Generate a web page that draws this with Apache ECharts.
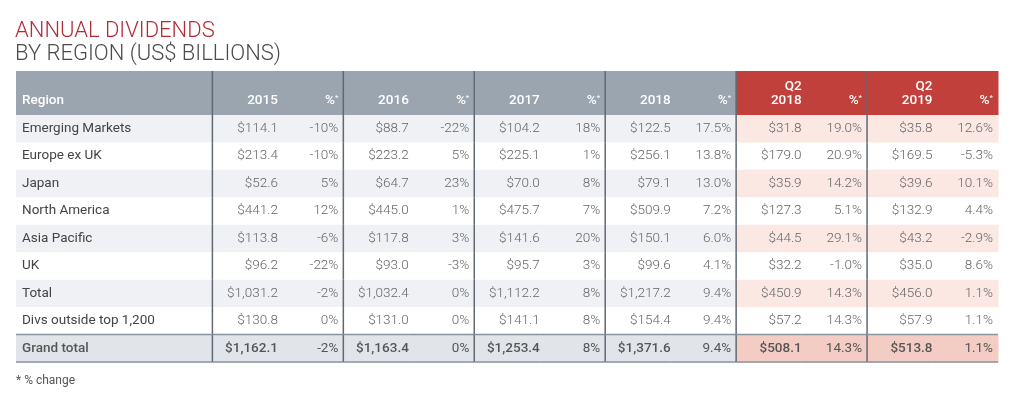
<!DOCTYPE html>
<html>
<head>
<meta charset="utf-8">
<script src="https://cdn.jsdelivr.net/npm/echarts@6/dist/echarts.min.js"></script>
<style>
  html, body { margin: 0; padding: 0; background: #fff; }
  #chart { width: 1024px; height: 407px; }
</style>
</head>
<body>
<div id="chart"></div>
<script>
// table contents
const regions = ['Emerging Markets', 'Europe ex UK', 'Japan', 'North America', 'Asia Pacific', 'UK', 'Total', 'Divs outside top 1,200', 'Grand total'];
const periods = ['2015', '2016', '2017', '2018', 'Q2\n2018', 'Q2\n2019'];

const val2015 = [114.1, 213.4, 52.6, 441.2, 113.8, 96.2, 1031.2, 130.8, 1162.1];
const pct2015 = [-10, -10, 5, 12, -6, -22, -2, 0, -2];
const val2016 = [88.7, 223.2, 64.7, 445.0, 117.8, 93.0, 1032.4, 131.0, 1163.4];
const pct2016 = [-22, 5, 23, 1, 3, -3, 0, 0, 0];
const val2017 = [104.2, 225.1, 70.0, 475.7, 141.6, 95.7, 1112.2, 141.1, 1253.4];
const pct2017 = [18, 1, 8, 7, 20, 3, 8, 8, 8];
const val2018 = [122.5, 256.1, 79.1, 509.9, 150.1, 99.6, 1217.2, 154.4, 1371.6];
const pct2018 = [17.5, 13.8, 13.0, 7.2, 6.0, 4.1, 9.4, 9.4, 9.4];
const valQ2_2018 = [31.8, 179.0, 35.9, 127.3, 44.5, 32.2, 450.9, 57.2, 508.1];
const pctQ2_2018 = [19.0, 20.9, 14.2, 5.1, 29.1, -1.0, 14.3, 14.3, 14.3];
const valQ2_2019 = [35.8, 169.5, 39.6, 132.9, 43.2, 35.0, 456.0, 57.9, 513.8];
const pctQ2_2019 = [12.6, -5.3, 10.1, 4.4, -2.9, 8.6, 1.1, 1.1, 1.1];

const pctDecimals = [0, 0, 0, 1, 1, 1];

const values = [val2015, val2016, val2017, val2018, valQ2_2018, valQ2_2019];
const pcts = [pct2015, pct2016, pct2017, pct2018, pctQ2_2018, pctQ2_2019];

const FONT = 'Roboto, "Liberation Sans", sans-serif';
const HEADER_H = 1.6; // header height in row units
const GRAND = regions.length - 1;

function fmtMoney(n) {
    return '$' + n.toLocaleString('en-US', { minimumFractionDigits: 1, maximumFractionDigits: 1 });
}
function fmtPct(n, dec) {
    return n.toFixed(dec) + '%';
}

// column 0 (region) is 3 units wide, the others 1 unit
function colStart(c) { return c === 0 ? 0 : c + 2; }
function colEnd(c) { return c === 0 ? 3 : c + 3; }
function rowStart(r) { return r < 0 ? 0 : HEADER_H + r; }
function rowEnd(r) { return r < 0 ? HEADER_H : HEADER_H + r + 1; }

// build the cell list: row -1 is the header
const cells = [];
cells.push({ col: 0, row: -1, text: 'Region' });
periods.forEach((p, i) => {
    cells.push({ col: 1 + i * 2, row: -1, text: p, period: i });
    cells.push({ col: 2 + i * 2, row: -1, text: '%{sup|*}', period: i, isPct: true });
});
regions.forEach((name, r) => {
    cells.push({ col: 0, row: r, text: name });
    periods.forEach((p, i) => {
        cells.push({ col: 1 + i * 2, row: r, text: fmtMoney(values[i][r]), period: i });
        cells.push({ col: 2 + i * 2, row: r, text: fmtPct(pcts[i][r], pctDecimals[i]), period: i, isPct: true });
    });
});

function cellFill(cell) {
    const red = cell.period >= 4;
    if (cell.row < 0) return red ? '#c2403b' : '#9aa5b0';
    if (cell.row === GRAND) return red ? '#f3cdc4' : '#e1e5ea';
    if (cell.row % 2 === 0) return red ? '#fbe8e3' : '#eff1f4';
    return '#ffffff';
}

function renderCell(params, api) {
    const cell = cells[params.dataIndex];
    const p0 = api.coord([colStart(cell.col), rowStart(cell.row)]);
    const p1 = api.coord([colEnd(cell.col), rowEnd(cell.row)]);
    const w = p1[0] - p0[0];
    const h = p1[1] - p0[1];
    const children = [{
        type: 'rect',
        shape: { x: p0[0], y: p0[1], width: w + 0.5, height: h + 0.5 },
        style: { fill: cellFill(cell) }
    }];

    const isHeader = cell.row < 0;
    const isGrand = cell.row === GRAND;
    let tx, align;
    if (cell.col === 0) {
        tx = p0[0] + 6; align = 'left';
    } else if (cell.isPct) {
        tx = p1[0] - 5; align = 'right';
    } else {
        tx = p1[0]; align = 'right';
    }
    let color = '#666666', weight = 300;
    if (isHeader) { color = '#ffffff'; weight = 500; }
    else if (cell.col === 0) { color = '#444444'; weight = 'normal'; }
    if (isGrand && !cell.isPct) { color = '#555555'; weight = 500; }
    if (isGrand && cell.isPct) { color = '#555555'; weight = 'normal'; }

    children.push({
        type: 'text',
        z2: 5,
        style: {
            text: cell.text,
            x: tx,
            y: isHeader ? p1[1] - 7 : (p0[1] + p1[1]) / 2,
            align: align,
            verticalAlign: isHeader ? 'bottom' : 'middle',
            fill: color,
            fontSize: 13.5,
            lineHeight: 14,
            fontFamily: FONT,
            fontWeight: weight,
            rich: { sup: { fontSize: 8, verticalAlign: 'top', fill: color, fontFamily: FONT } }
        }
    });

    // section dividers on the left of each value column
    if (cell.col % 2 === 1) {
        children.push({
            type: 'line',
            z2: 10,
            shape: { x1: p0[0], y1: p0[1], x2: p0[0], y2: p1[1] },
            style: { stroke: '#5f6973', lineWidth: 1.5 }
        });
    }
    if (isGrand) {
        [p0[1], p1[1]].forEach(y => {
            children.push({
                type: 'line',
                z2: 10,
                shape: { x1: p0[0], y1: y, x2: p1[0], y2: y },
                style: { stroke: '#8a949e', lineWidth: 1.5 }
            });
        });
    }
    return { type: 'group', children: children };
}

const chart = echarts.init(document.getElementById('chart'));
const option = {
    backgroundColor: '#ffffff',
    animation: false,
    title: [
        {
            text: 'ANNUAL DIVIDENDS',
            subtext: 'BY REGION (US$ BILLIONS)',
            left: 15,
            top: 21,
            padding: 0,
            itemGap: 1,
            textStyle: { color: '#b42b38', fontSize: 22, fontWeight: 300, fontFamily: FONT, lineHeight: 20 },
            subtextStyle: { color: '#4b4b4b', fontSize: 22, fontWeight: 300, fontFamily: FONT, lineHeight: 20 }
        },
        {
            text: '* % change',
            left: 16,
            top: 375,
            padding: 0,
            textStyle: { color: '#555555', fontSize: 12, fontWeight: 'normal', fontFamily: FONT }
        }
    ],
    grid: { left: 16, right: 26, top: 71, bottom: 45 },
    xAxis: { type: 'value', min: 0, max: 15, show: false },
    yAxis: { type: 'value', min: 0, max: HEADER_H + regions.length, inverse: true, show: false },
    series: [{
        type: 'custom',
        renderItem: renderCell,
        data: cells.map(c => [colStart(c.col), rowStart(c.row)]),
        clip: false,
        silent: true
    }]
};
chart.setOption(option);
window.addEventListener('resize', () => chart.resize());
</script>
</body>
</html>
